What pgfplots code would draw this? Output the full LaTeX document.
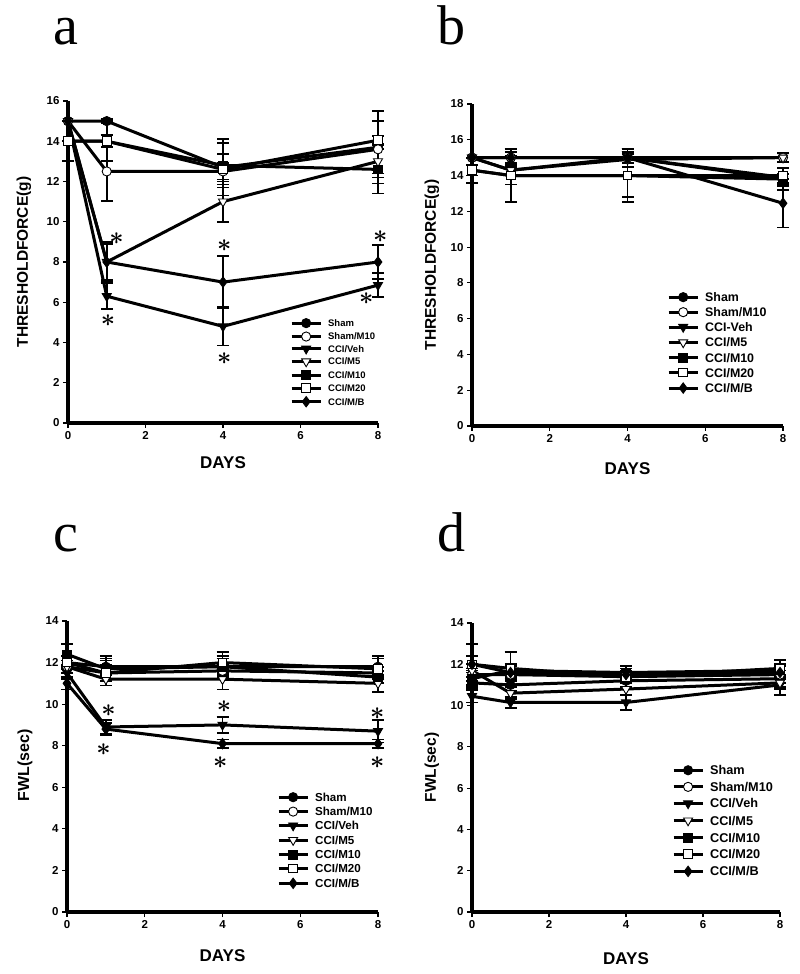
\documentclass[border=0pt]{standalone}
\usepackage{fontspec}
\setmainfont{Liberation Sans}
\newfontfamily\serif{Liberation Serif}
\usepackage{pgfplots}
\pgfplotsset{compat=1.18}

\tikzset{astr/.style={font=\fontsize{38}{38}\selectfont\boldmath, inner sep=0pt}}
\pgfplotsset{
  panel/.style={
    scale only axis, clip=false, anchor=south west,
    axis lines=left, axis line style={-, line width=3.2pt},
    xmin=0, xmax=8, ymin=0,
    xtick={0,2,4,6,8},
    tick align=outside, major tick length=5pt,
    tick style={line width=1.2pt, black},
    tick label style={font=\bfseries\fontsize{11.5}{12}\selectfont},
    /pgf/number format/assume math mode=true,
    xlabel={DAYS},
    xlabel style={font=\bfseries\fontsize{17}{17}\selectfont, anchor=center},
    ylabel style={font=\bfseries\fontsize{15.5}{16}\selectfont, anchor=center},
    legend cell align=left,
    legend style={draw=none, fill=none, inner sep=0pt, anchor=north west,
      nodes={inner sep=0pt, text depth=0pt},
      /tikz/every odd column/.append style={column sep=6pt}},
    legend image code/.code={\draw[mark repeat=2, mark phase=2, #1]
      plot coordinates {(0pt,0pt)(14.5pt,0pt)(29pt,0pt)};},
  },
  ser/.style={black, solid, line width=3pt, mark size=4.6pt,
    error bars/y dir=both, error bars/y explicit,
    error bars/error bar style={line width=1.8pt, solid},
    error bars/error mark options={rotate=90, mark size=6pt, line width=1.8pt}},
  mSham/.style={mark=*, mark options={solid, fill=black, line width=0.9pt}},
  mShamM/.style={mark=*, mark options={solid, fill=white, line width=0.9pt}},
  mVeh/.style={mark=triangle*, mark size=5.2pt, mark options={solid, fill=black, rotate=180, line width=0.9pt}},
  mFive/.style={mark=triangle*, mark size=5.2pt, mark options={solid, fill=white, rotate=180, line width=0.9pt}},
  mTen/.style={mark=square*, mark size=4.3pt, mark options={solid, fill=black, line width=0.9pt}},
  mTwenty/.style={mark=square*, mark size=4.3pt, mark options={solid, fill=white, line width=0.9pt}},
  mMB/.style={mark=diamond*, mark size=5.2pt, mark options={solid, fill=black, line width=0.9pt}},
}

\begin{document}
\begin{tikzpicture}
\useasboundingbox (0,0) rectangle (800pt,974pt);

\node[anchor=base west, inner sep=0pt, font=\serif\fontsize{56}{56}\selectfont] at (53pt,929pt) {a};
\node[anchor=base west, inner sep=0pt, font=\serif\fontsize{56}{56}\selectfont] at (437pt,929pt) {b};
\node[anchor=base west, inner sep=0pt, font=\serif\fontsize{56}{56}\selectfont] at (53pt,422pt) {c};
\node[anchor=base west, inner sep=0pt, font=\serif\fontsize{56}{56}\selectfont] at (437pt,422pt) {d};

% ---- a ----
\begin{axis}[panel, at={(68pt,551pt)}, width=310pt, height=322pt,
  ymax=16, ytick={0,2,...,16},
  ylabel={THRESHOLDFORCE(g)},
  ylabel style={at={(axis description cs:-0.142,0.5)}},
  xlabel style={at={(axis description cs:0.5,-0.123)}},
  legend style={at={(axis description cs:0.716,0.325)}, row sep=4.2pt,
    font=\bfseries\fontsize{9.5}{10}\selectfont, nodes={text height=6.8pt}}]
\addplot[ser, mSham] coordinates {(0,15) +- (0,0) (1,15) +- (0,0.1) (4,12.7) +- (0,1.4) (8,13.7) +- (0,1.8)};
\addplot[ser, mShamM] coordinates {(0,15) +- (0,0) (1,12.5) +- (0,1.45) (4,12.5) +- (0,0.4) (8,13.6) +- (0,1.4)};
\addplot[ser, mVeh] coordinates {(0,15) +- (0,0) (1,6.3) +- (0,0.65) (4,4.8) +- (0,0.95) (8,6.85) +- (0,0.6)};
\addplot[ser, mFive] coordinates {(0,15) +- (0,0) (1,8) +- (0,0.9) (4,11) +- (0,1.0) (8,13) +- (0,0.6)};
\addplot[ser, mTen] coordinates {(0,14) +- (0,1) (1,14) +- (0,0.3) (4,12.8) +- (0,1.1) (8,12.6) +- (0,1.2)};
\addplot[ser, mTwenty] coordinates {(0,14) +- (0,0) (1,14) +- (0,1) (4,12.6) +- (0,0.75) (8,14.05) +- (0,0.2)};
\addplot[ser, mMB] coordinates {(0,15) +- (0,0) (1,8) +- (0,1.0) (4,7) +- (0,1.3) (8,8) +- (0,0.85)};
\legend{Sham, Sham/M10, CCI/Veh, CCI/M5, CCI/M10, CCI/M20, CCI/M/B}
\node[astr] at (axis cs:1.25,9.15) {$\ast$};
\node[astr] at (axis cs:1.03,5.1) {$\ast$};
\node[astr] at (axis cs:4.03,8.8) {$\ast$};
\node[astr] at (axis cs:4.03,3.2) {$\ast$};
\node[astr] at (axis cs:8.06,9.25) {$\ast$};
\node[astr] at (axis cs:7.7,6.2) {$\ast$};
\end{axis}

% ---- b ----
\begin{axis}[panel, at={(472pt,548pt)}, width=311pt, height=322pt,
  ymax=18, ytick={0,2,...,18},
  ylabel={THRESHOLDFORCE(g)},
  ylabel style={at={(axis description cs:-0.129,0.5)}},
  xlabel style={at={(axis description cs:0.5,-0.132)}},
  legend style={at={(axis description cs:0.627,0.415)}, row sep=5.8pt,
    font=\bfseries\fontsize{12.4}{13}\selectfont, nodes={text height=8.9pt}}]
\addplot[ser, mSham] coordinates {(0,15) +- (0,0) (1,15) +- (0,0.5) (4,15) +- (0,0.5) (8,13.9) +- (0,0.5)};
\addplot[ser, mShamM] coordinates {(0,15) +- (0,0) (1,15) +- (0,0.3) (4,15) +- (0,0.3) (8,15) +- (0,0.25)};
\addplot[ser, mVeh] coordinates {(0,15) +- (0,0) (1,14.3) +- (0,0.8) (4,15) +- (0,0.5) (8,13.8) +- (0,0.3)};
\addplot[ser, mFive] coordinates {(0,15) +- (0,0) (1,14.3) +- (0,0.3) (4,14.9) +- (0,0.4) (8,15) +- (0,0.25)};
\addplot[ser, mTen] coordinates {(0,14.3) +- (0,0.7) (1,14) +- (0,1.5) (4,14) +- (0,1.2) (8,13.8) +- (0,0.6)};
\addplot[ser, mTwenty] coordinates {(0,14.3) +- (0,0.3) (1,14) +- (0,0.5) (4,14) +- (0,1.5) (8,14) +- (0,0.4)};
\addplot[ser, mMB] coordinates {(0,15) +- (0,0) (1,15) +- (0,0.5) (4,15) +- (0,0.3) (8,12.45) +- (0,1.35)};
\legend{Sham, Sham/M10, CCI-Veh, CCI/M5, CCI/M10, CCI/M20, CCI/M/B}
\end{axis}

% ---- c ----
\begin{axis}[panel, at={(67pt,62pt)}, width=311pt, height=291pt,
  ymax=14, ytick={0,2,...,14},
  ylabel={FWL(sec)},
  ylabel style={at={(axis description cs:-0.135,0.505)}, font=\bfseries\fontsize{16}{16}\selectfont},
  xlabel style={at={(axis description cs:0.5,-0.15)}},
  legend style={at={(axis description cs:0.675,0.411)}, row sep=5.2pt,
    font=\bfseries\fontsize{11.6}{12}\selectfont, nodes={text height=8.3pt}}]
\addplot[ser, mSham] coordinates {(0,12) +- (0,0.3) (1,11.8) +- (0,0.4) (4,11.8) +- (0,0.5) (8,11.8) +- (0,0.5)};
\addplot[ser, mShamM] coordinates {(0,11.8) +- (0,0.3) (1,11.5) +- (0,0.4) (4,11.6) +- (0,0.3) (8,11.5) +- (0,0.3)};
\addplot[ser, mVeh] coordinates {(0,11.5) +- (0,0.3) (1,8.9) +- (0,0.35) (4,9.0) +- (0,0.4) (8,8.7) +- (0,0.55)};
\addplot[ser, mFive] coordinates {(0,11.8) +- (0,0.3) (1,11.2) +- (0,0.3) (4,11.2) +- (0,0.5) (8,11.0) +- (0,0.4)};
\addplot[ser, mTen] coordinates {(0,12.4) +- (0,0.5) (1,11.7) +- (0,0.6) (4,11.8) +- (0,0.4) (8,11.3) +- (0,0.3)};
\addplot[ser, mTwenty] coordinates {(0,12) +- (0,0.3) (1,11.5) +- (0,0.6) (4,12) +- (0,0.5) (8,11.7) +- (0,0.5)};
\addplot[ser, mMB] coordinates {(0,11) +- (0,0.3) (1,8.8) +- (0,0.3) (4,8.1) +- (0,0.2) (8,8.1) +- (0,0.2)};
\legend{Sham, Sham/M10, CCI/Veh, CCI/M5, CCI/M10, CCI/M20, CCI/M/B}
\node[astr] at (axis cs:1.07,9.7) {$\ast$};
\node[astr] at (axis cs:0.94,7.8) {$\ast$};
\node[astr] at (axis cs:4.04,9.9) {$\ast$};
\node[astr] at (axis cs:3.94,7.2) {$\ast$};
\node[astr] at (axis cs:7.98,9.55) {$\ast$};
\node[astr] at (axis cs:7.98,7.2) {$\ast$};
\end{axis}

% ---- d ----
\begin{axis}[panel, at={(472pt,62pt)}, width=308pt, height=289pt,
  ymax=14, ytick={0,2,...,14},
  ylabel={FWL(sec)},
  ylabel style={at={(axis description cs:-0.13,0.5)}, font=\bfseries\fontsize{15.5}{16}\selectfont},
  xlabel style={at={(axis description cs:0.5,-0.163)}},
  legend style={at={(axis description cs:0.649,0.507)}, row sep=7.4pt,
    font=\bfseries\fontsize{12.7}{13}\selectfont, nodes={text height=9.1pt}}]
\addplot[ser, mSham] coordinates {(0,11.1) +- (0,0.3) (1,11.0) +- (0,0.3) (4,11.2) +- (0,0.3) (8,11.3) +- (0,0.4)};
\addplot[ser, mShamM] coordinates {(0,11.5) +- (0,0.3) (1,11.5) +- (0,0.3) (4,11.4) +- (0,0.3) (8,11.5) +- (0,0.4)};
\addplot[ser, mVeh] coordinates {(0,10.45) +- (0,0.3) (1,10.15) +- (0,0.25) (4,10.15) +- (0,0.35) (8,11.0) +- (0,0.5)};
\addplot[ser, mFive] coordinates {(0,11.7) +- (0,0.3) (1,10.6) +- (0,0.3) (4,10.8) +- (0,0.3) (8,11.1) +- (0,0.3)};
\addplot[ser, mTen] coordinates {(0,11.3) +- (0,0.4) (1,11.7) +- (0,0.3) (4,11.6) +- (0,0.3) (8,11.7) +- (0,0.3)};
\addplot[ser, mTwenty] coordinates {(0,12) +- (0,1.0) (1,11.8) +- (0,0.8) (4,11.4) +- (0,0.3) (8,11.8) +- (0,0.4)};
\addplot[ser, mMB] coordinates {(0,12) +- (0,0.4) (1,11.6) +- (0,0.3) (4,11.5) +- (0,0.3) (8,11.6) +- (0,0.3)};
\legend{Sham, Sham/M10, CCI/Veh, CCI/M5, CCI/M10, CCI/M20, CCI/M/B}
\end{axis}
\end{tikzpicture}
\end{document}
